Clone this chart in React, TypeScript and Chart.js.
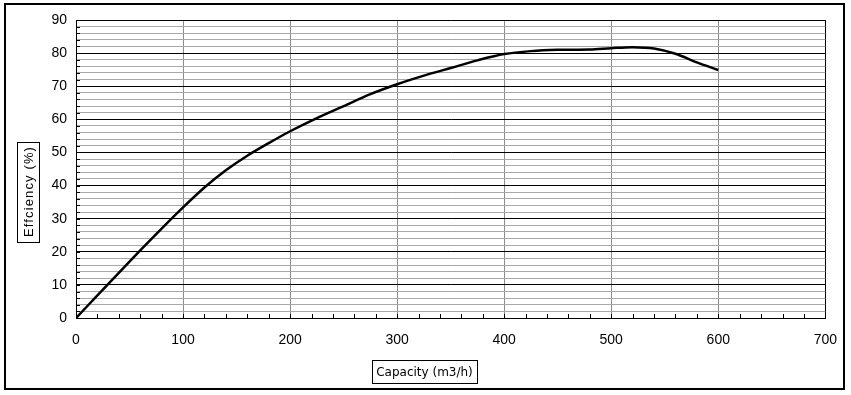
import React, { useEffect, useRef } from "react";
import { Chart, registerables } from "chart.js";

Chart.register(...registerables);

const capacity = [0, 20, 40, 60, 80, 100, 120, 140, 160, 180, 200, 225, 250, 275, 300, 325, 350, 375, 400, 425, 450, 480, 500, 520, 540, 560, 580, 600];
const efficiency = [0, 6.8, 13.6, 20.4, 27, 33.4, 39.4, 44.6, 49, 52.8, 56.4, 60.4, 64, 67.6, 70.6, 73.2, 75.5, 77.8, 79.7, 80.6, 81, 81.1, 81.5, 81.8, 81.4, 79.8, 77.2, 74.9];

const xTitle = "Capacity (m3/h)";
const yTitle = "Effciency (%)";
const xMax = 700;
const yMax = 90;

const FONT = "'Liberation Sans', Arial, sans-serif";
const TITLE_FONT = "'DejaVu Sans', sans-serif";

const decorPlugin = {
  id: "decor",
  beforeDatasetsDraw(chart: any) {
    const ctx = chart.ctx;
    const xs = chart.scales.x;
    const ys = chart.scales.y;
    const area = chart.chartArea;
    ctx.save();
    ctx.strokeStyle = "#000";
    ctx.lineWidth = 1;
    ctx.beginPath();
    for (let v = 0; v <= yMax; v += 2) {
      const py = Math.round(ys.getPixelForValue(v)) + 0.5;
      ctx.moveTo(area.left, py);
      ctx.lineTo(area.left + 4, py);
    }
    for (let v = 0; v <= xMax; v += 20) {
      const px = Math.round(xs.getPixelForValue(v)) + 0.5;
      ctx.moveTo(px, area.bottom);
      ctx.lineTo(px, area.bottom - 4);
    }
    ctx.stroke();
    ctx.restore();
  },
  afterDraw(chart: any) {
    const ctx = chart.ctx;
    const W = chart.width;
    const H = chart.height;
    ctx.save();
    ctx.strokeStyle = "#000";
    ctx.lineWidth = 2;
    ctx.strokeRect(5, 4, W - 12, H - 10);

    ctx.fillStyle = "#000";
    ctx.textAlign = "center";
    ctx.textBaseline = "middle";
    ctx.lineWidth = 1;

    // x title
    ctx.font = `12px ${TITLE_FONT}`;
    const cx = 424.5;
    const cy = 372;
    const tw = ctx.measureText(xTitle).width;
    ctx.fillText(xTitle, cx, cy + 1);
    ctx.strokeRect(Math.round(cx - tw / 2 - 4) + 0.5, cy - 12 + 0.5, Math.round(tw + 8), 23);

    // y title
    ctx.font = `13px ${FONT}`;
    const target = 91;
    const natural = ctx.measureText(yTitle).width;
    const sp = Math.max(0, (target - natural) / yTitle.length);
    (ctx as any).letterSpacing = `${sp}px`;
    const yx = 28;
    const yy = 192;
    ctx.save();
    ctx.translate(yx, yy);
    ctx.rotate(-Math.PI / 2);
    ctx.fillText(yTitle, sp / 2, 1);
    ctx.restore();
    (ctx as any).letterSpacing = "0px";
    ctx.strokeRect(yx - 11 + 0.5, yy - 50 + 0.5, 22, 100);
    ctx.restore();
  },
};

export default function App() {
  const canvasRef = useRef<HTMLCanvasElement | null>(null);

  useEffect(() => {
    const canvas = canvasRef.current;
    if (!canvas) return;
    const points = capacity.map((c, i) => ({ x: c, y: efficiency[i] }));
    const chart = new Chart(canvas, {
      type: "scatter",
      data: {
        datasets: [
          {
            data: points,
            showLine: true,
            borderColor: "#000",
            backgroundColor: "#000",
            borderWidth: 2.5,
            pointRadius: 0,
            tension: 0.3,
          },
        ],
      },
      options: {
        responsive: false,
        animation: false,
        devicePixelRatio: 1,
        layout: { padding: { left: 0, top: 20, right: 25, bottom: 0 } },
        plugins: { legend: { display: false }, tooltip: { enabled: false } },
        scales: {
          x: {
            type: "linear",
            min: 0,
            max: xMax,
            afterFit: (s: any) => {
              s.height = 77;
            },
            ticks: {
              stepSize: 20,
              autoSkip: false,
              maxRotation: 0,
              padding: 14,
              color: "#000",
              font: { family: FONT, size: 14 },
              callback: (v: any) => (Number(v) % 100 === 0 ? String(v) : ""),
            },
            grid: {
              drawTicks: false,
              color: (c: any) => {
                const v = c.tick?.value;
                if (v === xMax) return "#000";
                return v % 100 === 0 ? "#8c8c8c" : "rgba(0,0,0,0)";
              },
              lineWidth: 1,
            },
            border: { color: "#000", width: 1 },
          },
          y: {
            type: "linear",
            min: 0,
            max: yMax,
            afterFit: (s: any) => {
              s.width = 76;
            },
            ticks: {
              stepSize: 2,
              autoSkip: false,
              padding: 9,
              color: "#000",
              font: { family: FONT, size: 14 },
              callback: (v: any) => (Number(v) % 10 === 0 ? String(v) : ""),
            },
            grid: {
              drawTicks: false,
              color: (c: any) => {
                const v = c.tick?.value;
                return v % 10 === 0 ? "#000" : "#a8a8a8";
              },
              lineWidth: 1,
            },
            border: { color: "#000", width: 1 },
          },
        },
      },
      plugins: [decorPlugin],
    });
    return () => chart.destroy();
  }, []);

  return (
    <div style={{ position: "absolute", left: 0, top: 0, width: 851, height: 395, background: "#fff" }}>
      <canvas ref={canvasRef} width={851} height={395} style={{ display: "block" }} />
    </div>
  );
}
